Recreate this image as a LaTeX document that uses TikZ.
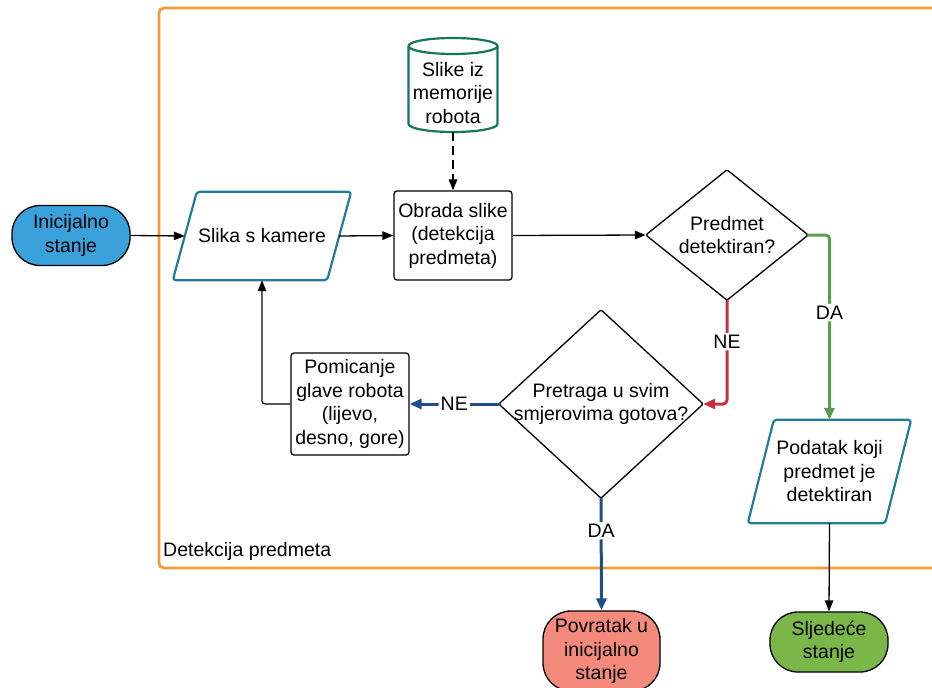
\documentclass[tikz,border=0pt]{standalone}
\usepackage{fontspec}
\setmainfont{Liberation Sans}
\usetikzlibrary{arrows.meta}

\definecolor{frameorange}{HTML}{EE9B3B}
\definecolor{startblue}{HTML}{3AA1DB}
\definecolor{backsalmon}{HTML}{F48A7B}
\definecolor{nextgreen}{HTML}{7AB648}
\definecolor{ioteal}{HTML}{1F7C9B}
\definecolor{dbteal}{HTML}{16775F}
\definecolor{noread}{HTML}{C4303C}
\definecolor{yesgreen}{HTML}{5A9D4A}
\definecolor{loopblue}{HTML}{1F4F8A}

\tikzset{
  every node/.style={font=\fontsize{19.5}{23.5}\selectfont},
  holder/.style={inner sep=0pt, align=center},
  procbox/.style={draw=black, line width=1.3pt, rounded corners=3pt, fill=white,
    align=center, inner sep=0pt},
  termbox/.style={draw=black, line width=1.3pt, rounded corners=28pt, align=center,
    inner sep=0pt, minimum width=118pt, minimum height=60pt},
  ioline/.style={draw=ioteal, line width=2.2pt, rounded corners=3pt, line join=round},
  decline/.style={draw=black, line width=1.3pt, rounded corners=1.5pt, line join=round},
  flow/.style={line width=1.3pt, -{Triangle[length=11pt,width=8.5pt]}},
  thickflow/.style={line width=3pt, rounded corners=4pt,
    -{Triangle[length=12pt,width=10pt]}},
  branchlbl/.style={fill=white, inner sep=2pt},
}

\begin{document}
\begin{tikzpicture}[x=1pt, y=-1pt]
\useasboundingbox (0,0) rectangle (932,688);

% group frame
\draw[frameorange, line width=2.8pt, rounded corners=5pt] (159,8) rectangle (960,568);
\node[anchor=base west, inner sep=0pt] (grouplbl) at (163,556) {Detekcija predmeta};

% terminators
\node[termbox, fill=startblue] (init) at (71,235.5) {Inicijalno\\stanje};
\node[termbox, fill=backsalmon, minimum width=117pt, minimum height=80pt] (back) at (601.5,651) {Povratak u\\inicijalno\\stanje};
\node[termbox, fill=nextgreen, minimum width=118pt] (next) at (829,642) {Sljedeće\\stanje};

% camera input (parallelogram)
\node[holder, minimum width=154pt, minimum height=88pt] (cam) at (262,236) {Slika s kamere};
\draw[ioline] ([xshift=-12pt]cam.south west) -- ([xshift=12pt]cam.north west)
  -- ([xshift=12pt]cam.north east) -- ([xshift=-12pt]cam.south east) -- cycle;

% image memory (cylinder)
\node[holder, minimum width=89pt, minimum height=94pt] (mem) at (453,85) {};
\draw[dbteal, line width=2.2pt, fill=white] (408.5,46) -- (408.5,124)
  arc[start angle=180, end angle=360, x radius=44.5pt, y radius=8pt]
  -- (497.5,46)
  arc[start angle=0, end angle=180, x radius=44.5pt, y radius=8pt] -- cycle;
\draw[dbteal, line width=2.2pt] (408.5,46)
  arc[start angle=180, end angle=360, x radius=44.5pt, y radius=8pt];
\node[holder] (memtext) at (453,93) {Slike iz\\memorije\\robota};

% processing
\node[procbox, minimum width=118pt, minimum height=89pt] (proc) at (453,235.5) {Obrada slike\\(detekcija\\predmeta)};

% decision: object detected
\node[holder, minimum width=162pt, minimum height=130pt] (det) at (727,235) {Predmet\\detektiran?};
\draw[decline] (det.north) -- (det.east) -- (det.south) -- (det.west) -- cycle;

% decision: search finished
\node[holder, minimum width=204pt, minimum height=188pt] (search) at (601,404) {Pretraga u svim\\smjerovima gotova?};
\draw[decline] (search.north) -- (search.east) -- (search.south) -- (search.west) -- cycle;

% head movement
\node[procbox, minimum width=118pt, minimum height=102pt] (move) at (350,404) {Pomicanje\\glave robota\\(lijevo,\\desno, gore)};

% detected object output (parallelogram)
\node[holder, minimum width=137pt, minimum height=103pt] (found) at (829.5,471.5) {Podatak koji\\predmet je\\detektiran};
\draw[ioline] ([xshift=-13pt]found.south west) -- ([xshift=13pt]found.north west)
  -- ([xshift=13pt]found.north east) -- ([xshift=-13pt]found.south east) -- cycle;

% connectors
\draw[flow] (init.east) -- (cam.west);
\draw[flow] (cam.east) -- (proc.west);
\draw[flow, dashed, dash pattern=on 9pt off 5pt] (mem.south) -- (proc.north);
\draw[flow] (proc.east) -- (det.west);
\draw[flow, rounded corners=3pt] (move.west) -| (cam.south);
\draw[flow] (found.south) -- (next.north);

\draw[thickflow, yesgreen] (det.east) -| (found.north)
  node[branchlbl, text=black, pos=0.71] (yes1) {DA};
\draw[thickflow, noread] (det.south) |- (search.east)
  node[branchlbl, text=black, pos=0.2] (no1) {NE};
\draw[thickflow, loopblue] (search.west) -- (move.east)
  node[branchlbl, text=black, pos=0.5] (no2) {NE};
\draw[thickflow, loopblue] (search.south) -- (back.north)
  node[branchlbl, text=black, pos=0.29] (yes2) {DA};
\end{tikzpicture}
\end{document}
